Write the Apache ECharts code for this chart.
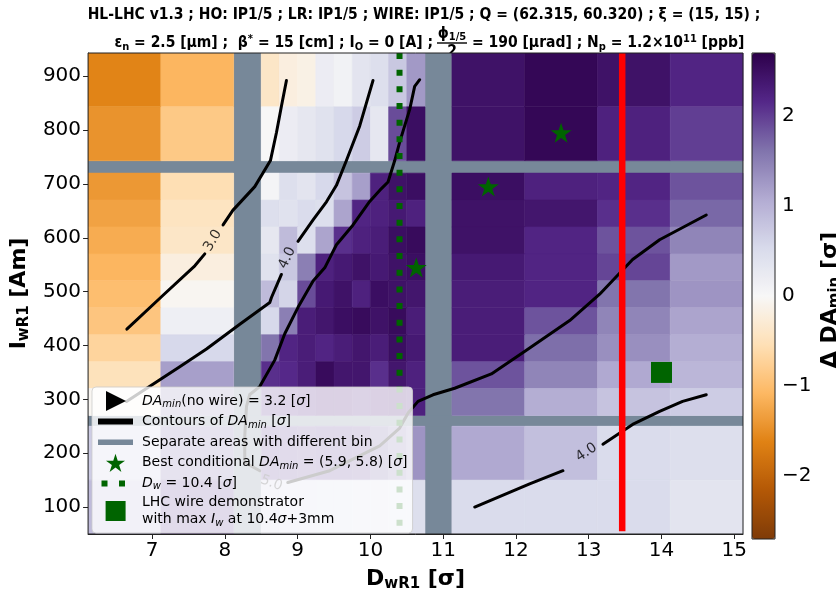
<!DOCTYPE html>
<html><head><meta charset="utf-8">
<script src="https://cdn.jsdelivr.net/npm/echarts@6/dist/echarts.min.js"></script>
<style>html,body{margin:0;padding:0;background:#fff}#c{width:836px;height:597px}</style>
</head><body><div id="c"></div>
<script>
// ---------------- data ----------------
const xTicks = [7, 8, 9, 10, 11, 12, 13, 14, 15];
const yTicks = [100, 200, 300, 400, 500, 600, 700, 800, 900];
const cbTicks = [-2, -1, 0, 1, 2];

// cell column edges [D_wR1 from, to] (sigma)
const colEdges = [[6.12,7.12],[7.12,8.12],
  [8.5,8.75],[8.75,9.0],[9.0,9.25],[9.25,9.5],[9.5,9.75],[9.75,10.0],[10.0,10.25],[10.25,10.5],[10.5,10.75],
  [11.12,12.12],[12.12,13.12],[13.12,14.12],[14.12,15.12]];
// cell row edges [I_wR1 from, to] (A m), top to bottom
const rowEdges = [[843,943],[743,843],
  [670,720],[620,670],[570,620],[520,570],[470,520],[420,470],[370,420],[320,370],[270,320],
  [150,250],[50,150]];
// Delta DA_min [sigma] per row (top -> bottom), per column (left -> right)
const deltaDA = [
  [-1.6, -1.1, -0.4, -0.2, -0.15, 0.2, 0.1, 0.35, 0.45, 0.75, 1.25, 2.45, 2.6, 2.45, 2.2],
  [-1.45, -0.85, 0.0, 0.2, 0.3, 0.4, 0.55, 0.7, 0.3, 1.9, 2.5, 2.45, 2.6, 2.25, 2.0],
  [-1.4, -0.55, 0.05, 0.45, 0.35, 0.55, 0.8, 1.2, 2.25, 2.45, 2.5, 2.5, 2.25, 2.2, 1.85],
  [-1.3, -0.45, 0.45, 0.4, 0.5, 0.45, 1.15, 2.2, 2.25, 2.35, 2.25, 2.45, 2.4, 2.1, 1.7],
  [-1.2, -0.4, 0.3, 0.9, 0.45, 1.15, 2.1, 2.25, 2.3, 2.5, 2.55, 2.45, 2.2, 1.85, 1.45],
  [-1.1, -0.2, 0.4, 0.75, 1.5, 2.25, 2.35, 2.45, 2.35, 2.45, 2.5, 2.35, 2.2, 1.95, 1.25],
  [-1.0, -0.05, 0.9, 0.6, 1.9, 2.35, 2.45, 2.25, 2.5, 2.45, 2.4, 2.3, 2.2, 1.6, 1.3],
  [-0.9, 0.15, 0.55, 1.5, 2.3, 2.4, 2.5, 2.55, 2.45, 2.55, 2.3, 2.3, 1.85, 1.45, 1.15],
  [-0.7, 0.55, 1.6, 2.2, 2.3, 2.2, 2.3, 2.4, 2.3, 2.5, 2.35, 2.3, 1.65, 1.35, 1.05],
  [-0.5, 1.2, 2.1, 2.15, 2.3, 2.55, 2.4, 2.4, 2.1, 2.4, 2.25, 1.85, 1.45, 1.1, 0.95],
  [-0.05, 1.4, 2.0, 2.1, 2.2, 2.3, 2.3, 2.2, 2.3, 2.35, 2.25, 1.6, 1.05, 0.8, 0.7],
  [0.7, 1.6, 1.9, 1.9, 1.85, 1.9, 1.9, 1.85, 1.7, 1.5, 1.3, 1.1, 0.85, 0.5, 0.45],
  [0.9, 1.9, 0.65, 0.6, 0.6, 0.55, 0.55, 0.5, 0.5, 0.45, 0.45, 0.5, 0.5, 0.5, 0.35]
];
// separator bands
const bandX = [[8.12, 8.5], [10.75, 11.12]];
const bandY = [[250, 270], [720, 743]];
const xRange = [6.12, 15.12];
const yRange = [50, 943];
const cbRange = [-2.7, 2.7];

// contours of DA_min (segments, broken at labels)
const contour30 = [
  [[8.846,892.1],[8.777,844.3],[8.709,795.4],[8.626,743.3],[8.411,694.9],[8.109,650.8],[7.975,623.8]],
  [[7.724,570.0],[7.587,547.9],[7.147,492.8],[6.653,430.3]]
];
const contour40a = [
  [[10.036,892.1],[9.853,807.6],[9.670,743.3],[9.533,697.3],[9.396,666.8],[9.212,633.0],[9.005,593.3]],
  [[8.777,531.9],[8.640,489.1],[8.617,479.9],[8.205,439.5],[7.747,393.6],[7.380,360.5],[6.648,296.2]]
];
const contour50 = [
  [[10.677,893.4],[10.608,881.1],[10.540,838.3],[10.402,777.6],[10.334,743.3],[10.242,703.6],[10.151,691.3],
   [9.990,667.4],[9.761,623.8],[9.533,587.1],[9.372,544.2],[9.212,519.8],[9.005,470.8],[8.823,421.7],
   [8.685,372.8],[8.479,323.7],[8.342,309.0],[8.297,287.0],[8.273,231.9],[8.273,182.8],[8.479,167.5]],
  [[8.864,145.5],[9.441,167.5],[10.128,213.5],[10.402,246.6],[10.518,274.7],[10.654,296.2],[10.860,308.5],
   [11.158,320.6],[11.662,347.1],[12.143,391.2],[12.738,446.3],[13.150,495.2],[13.603,559.5],[13.974,596.3],[14.615,642.2]]
];
const contour40b = [
  [[11.433,100.1],[12.188,143.1],[12.646,167.5]],
  [[13.195,216.6],[13.603,253.4],[13.974,277.8],[14.290,296.2],[14.615,308.5]]
];
const contourLabelPos = [[7.834,594.8],[8.857,562.6],[12.967,201.2],[8.640,144.6]];
const contourLabelText = ['3.0', '4.0', '4.0', '5.0'];

const bestPoints = [[12.62, 795], [11.62, 695], [10.63, 545]];
const wireDemo = [[14.0, 350]];
const dwValue = 10.4;
const redLineX = 13.46;
const redLineY = [55, 943];

// ---------------- chart ----------------
const puor = ['#7f3b08','#b35806','#e08214','#fdb863','#fee0b6','#f7f7f7','#d8daeb','#b2abd2','#8073ac','#542788','#2d004b'];
const FONT = 'DejaVu Sans';
const TFONT = 'DejaVu Sans Condensed';
const GREEN = '#006400';

const cells = [];
rowEdges.forEach((r, i) => colEdges.forEach((c, j) => cells.push([c[0], c[1], r[0], r[1], deltaDA[i][j]])));

const starPath = 'path://M10,0 L12.245,6.91 L19.51,6.91 L13.633,11.18 L15.88,18.09 L10,13.82 L4.12,18.09 L6.367,11.18 L0.49,6.91 L7.755,6.91 Z';
const box = 'M0,0 M39,20 ';
const icons = {
  noWire: 'path://' + box + 'M8,0 L28,10 L8,20 Z',
  contours: 'path://' + box + 'M0,7 L35,7 L35,13 L0,13 Z',
  bands: 'path://' + box + 'M0,7.2 L35,7.2 L35,12.8 L0,12.8 Z',
  best: 'path://' + box + 'M17.5,1 L19.745,7.91 L27.01,7.91 L21.133,12.18 L23.38,19.09 L17.5,14.82 L11.62,19.09 L13.867,12.18 L7.99,7.91 L15.255,7.91 Z',
  dw: 'path://' + box + 'M3.5,7 L9.5,7 L9.5,13 L3.5,13 Z M21,7 L27,7 L27,13 L21,13 Z',
  lhc: 'path://' + box + 'M7,-0.5 L28,-0.5 L28,20.5 L7,20.5 Z'
};
const legendText = {
  noWire: '{it|DA}{sub|min}(no wire) = 3.2 [{it|σ}]',
  contours: 'Contours of {it|DA}{sub|min} [{it|σ}]',
  bands: 'Separate areas with different bin',
  best: 'Best conditional {it|DA}{sub|min} = (5.9, 5.8) [{it|σ}]',
  dw: '{it|D}{sub|w} = 10.4 [{it|σ}]',
  lhc: 'LHC wire demonstrator\nwith max {it|I}{sub|w} at 10.4{it|σ}+3mm'
};
const legendColors = {noWire:'#000', contours:'#000', bands:'#778899', best:GREEN, dw:GREEN, lhc:GREEN};

const series = [];
series.push({
  type: 'custom', name: 'delta', z: 1, silent: true, clip: true,
  data: cells, encode: {x: [0, 1], y: [2, 3]},
  renderItem: function (params, api) {
    const p0 = api.coord([api.value(0), api.value(3)]);
    const p1 = api.coord([api.value(1), api.value(2)]);
    const col = api.visual('color');
    return {type: 'rect', shape: {x: p0[0], y: p0[1], width: p1[0] - p0[0], height: p1[1] - p0[1]},
      style: {fill: col, stroke: col, lineWidth: 0.6}};
  }
});
// separator bands
const bandAreas = [];
bandX.forEach(b => bandAreas.push([{xAxis: b[0], yAxis: yRange[0]}, {xAxis: b[1], yAxis: yRange[1]}]));
bandY.forEach(b => bandAreas.push([{xAxis: xRange[0], yAxis: b[0]}, {xAxis: xRange[1], yAxis: b[1]}]));
series.push({type: 'scatter', name: 'bands', data: [], z: 2, itemStyle: {color: '#778899', opacity: 1}, silent: true,
  markArea: {silent: true, itemStyle: {color: '#778899', opacity: 1}, label: {show: false}, data: bandAreas}});
// legend-only entries
series.push({type: 'scatter', name: 'noWire', data: [], itemStyle: {color: '#000', opacity: 1}});
series.push({type: 'scatter', name: 'contours', data: [], itemStyle: {color: '#000', opacity: 1}});
series.push({type: 'scatter', name: 'dw', data: [], itemStyle: {color: GREEN, opacity: 1}});
// contour lines
[contour30, contour40a, contour50, contour40b].forEach(c => c.forEach(seg => series.push({
  type: 'line', data: seg, showSymbol: false, symbol: 'none', z: 5, silent: true,
  lineStyle: {color: '#000', width: 3, join: 'round', cap: 'round'}
})));
// contour labels
series.push({
  type: 'scatter', z: 6, silent: true, symbolSize: 0,
  data: contourLabelPos.map((p, i) => ({value: p, label: {formatter: contourLabelText[i], rotate: [59, 65, 34, -20][i]}})),
  label: {show: true, position: 'inside', color: '#000', fontFamily: FONT, fontSize: 14}
});
// Dw dotted line
series.push({type: 'line', data: [[dwValue, yRange[1]], [dwValue, yRange[0]]], showSymbol: false, symbol: 'none', z: 6, silent: true,
  lineStyle: {color: GREEN, width: 6, type: [6, 10.67], cap: 'butt'}});
// red line
series.push({type: 'line', data: [[redLineX, redLineY[1]], [redLineX, redLineY[0]]], showSymbol: false, symbol: 'none', z: 6, silent: true,
  lineStyle: {color: '#ff0000', width: 6.5}});
// stars
series.push({type: 'scatter', name: 'best', data: bestPoints, symbol: starPath, symbolSize: [21, 20], z: 7,
  itemStyle: {color: GREEN, opacity: 1}});
// LHC wire demonstrator
series.push({type: 'scatter', name: 'lhc', data: wireDemo, symbol: 'rect', symbolSize: 21, z: 7,
  itemStyle: {color: GREEN, opacity: 1}});

const sub = {fontFamily: FONT, fontSize: 10, fontStyle: 'italic', color: '#000', verticalAlign: 'bottom', lineHeight: 12};
const nameRich = {
  b: {fontFamily: FONT, fontWeight: 'bold', fontSize: 22, color: '#000', lineHeight: 26},
  s: {fontFamily: FONT, fontWeight: 'bold', fontSize: 15, color: '#000', verticalAlign: 'bottom', lineHeight: 20}
};
const option = {
  animation: false,
  backgroundColor: '#fff',
  grid: [
    {left: 88, right: 93, top: 53, bottom: 58, show: true, borderColor: '#222', borderWidth: 1, backgroundColor: 'transparent', z: 8},
    {left: 752, width: 23, top: 53, height: 486, show: false}
  ],
  xAxis: [
    {type: 'value', gridIndex: 0, min: xRange[0], max: xRange[1],
      axisLine: {show: true, onZero: false, lineStyle: {color: '#222', width: 1}},
      axisTick: {show: true, length: 5, lineStyle: {color: '#222'}, customValues: xTicks},
      axisLabel: {fontFamily: FONT, fontSize: 20, color: '#000', margin: 7, customValues: xTicks},
      splitLine: {show: false},
      name: '{b|D}{s|wR1}{b| [σ]}', nameLocation: 'middle', nameGap: 32,
      nameTextStyle: {rich: nameRich}
    },
    {type: 'value', gridIndex: 1, min: 0, max: 1, show: false}
  ],
  yAxis: [
    {type: 'value', gridIndex: 0, min: yRange[0], max: yRange[1],
      axisLine: {show: true, onZero: false, lineStyle: {color: '#222', width: 1}},
      axisTick: {show: true, length: 5, lineStyle: {color: '#222'}, customValues: yTicks},
      axisLabel: {fontFamily: FONT, fontSize: 20, color: '#000', margin: 7, customValues: yTicks},
      splitLine: {show: false},
      name: '{b|I}{s|wR1}{b| [Am]}', nameLocation: 'middle', nameGap: 55, nameRotate: 90,
      nameTextStyle: {rich: nameRich}
    },
    {type: 'value', gridIndex: 1, min: cbRange[0], max: cbRange[1], position: 'right',
      axisLine: {show: false},
      axisTick: {show: true, length: 5, lineStyle: {color: '#222'}, customValues: cbTicks},
      axisLabel: {fontFamily: FONT, fontSize: 20, color: '#000', margin: 7, customValues: cbTicks,
        formatter: v => String(v).replace('-', '\u2212')},
      splitLine: {show: false}
    }
  ],
  visualMap: {
    type: 'continuous', min: cbRange[0], max: cbRange[1], seriesIndex: 0, dimension: 4,
    left: 752, top: 53, itemWidth: 23, itemHeight: 486, padding: 0, calculable: false, hoverLink: false,
    orient: 'vertical', text: null, showLabel: false, inRange: {color: puor}
  },
  legend: {
    orient: 'vertical', left: 92, top: 387, padding: [4, 5, 5, 6], itemGap: 0.6,
    itemWidth: 39, itemHeight: 20, selectedMode: false, z: 20,
    backgroundColor: 'rgba(255,255,255,0.8)', borderColor: 'rgba(204,204,204,0.8)', borderWidth: 1, borderRadius: 4,
    data: ['noWire', 'contours', 'bands', 'best', 'dw', 'lhc'].map(n => ({name: n, icon: icons[n], itemStyle: {color: legendColors[n], opacity: 1}})),
    formatter: n => legendText[n],
    textStyle: {fontFamily: FONT, fontSize: 14, color: '#000', lineHeight: 17,
      rich: {it: {fontFamily: FONT, fontSize: 14, fontStyle: 'italic', color: '#000', lineHeight: 17}, sub: sub}}
  },
  graphic: [
    {type: 'rect', shape: {x: 752, y: 53, width: 23, height: 486}, style: {fill: 'none', stroke: '#222', lineWidth: 1}, z: 100, silent: true},
    {type: 'text', x: 830, y: 300, rotation: Math.PI / 2, silent: true, style: {
      text: '{b|Δ DA}{s|min}{b| [σ]}', align: 'center', textAlign: 'center', verticalAlign: 'middle', textVerticalAlign: 'middle',
      rich: {
        b: {fontFamily: FONT, fontWeight: 'bold', fontSize: 22, fill: '#000', lineHeight: 26},
        s: {fontFamily: FONT, fontWeight: 'bold', fontSize: 15, fill: '#000', lineHeight: 20, verticalAlign: 'bottom'}}}},
    {type: 'text', x: 424, y: 15, silent: true, style: {
      text: 'HL-LHC v1.3 ; HO: IP1/5 ; LR: IP1/5 ; WIRE: IP1/5 ; Q = (62.315, 60.320) ; ξ = (15, 15) ;',
      font: 'bold 15.5px "' + TFONT + '"', fill: '#000', align: 'center', textAlign: 'center', verticalAlign: 'middle', textVerticalAlign: 'middle'}},
    {type: 'text', x: 433, y: 43, silent: true, style: {
      text: '{m|ε}{s|n}{m| = 2.5 [μm] ;  β}{p|*}{m| = 15 [cm] ; I}{s|O}{m| = 0 [A] ;}',
      align: 'right', textAlign: 'right', verticalAlign: 'middle', textVerticalAlign: 'middle',
      rich: {
        m: {fontFamily: TFONT, fontWeight: 'bold', fontSize: 15.5, fill: '#000', lineHeight: 19},
        s: {fontFamily: TFONT, fontWeight: 'bold', fontSize: 11, fill: '#000', lineHeight: 19, verticalAlign: 'bottom'},
        p: {fontFamily: TFONT, fontWeight: 'bold', fontSize: 11, fill: '#000', lineHeight: 19, verticalAlign: 'top'}}}},
    {type: 'text', x: 452, y: 34, silent: true, style: {
      text: '{m|ϕ}{s|1/5}', align: 'center', textAlign: 'center', verticalAlign: 'middle', textVerticalAlign: 'middle',
      rich: {
        m: {fontFamily: TFONT, fontWeight: 'bold', fontSize: 15.5, fill: '#000', lineHeight: 17},
        s: {fontFamily: TFONT, fontWeight: 'bold', fontSize: 11, fill: '#000', lineHeight: 17, verticalAlign: 'bottom'}}}},
    {type: 'line', silent: true, shape: {x1: 437, y1: 43, x2: 467, y2: 43}, style: {stroke: '#000', lineWidth: 1.4}},
    {type: 'text', x: 452, y: 52, silent: true, style: {
      text: '2', font: 'bold 15.5px "' + TFONT + '"', fill: '#000', align: 'center', textAlign: 'center', verticalAlign: 'middle', textVerticalAlign: 'middle'}},
    {type: 'text', x: 472, y: 43, silent: true, style: {
      text: '{m|= 190 [μrad] ; N}{s|p}{m| = 1.2×10}{p|11}{m| [ppb]}',
      align: 'left', textAlign: 'left', verticalAlign: 'middle', textVerticalAlign: 'middle',
      rich: {
        m: {fontFamily: TFONT, fontWeight: 'bold', fontSize: 15.5, fill: '#000', lineHeight: 19},
        s: {fontFamily: TFONT, fontWeight: 'bold', fontSize: 11, fill: '#000', lineHeight: 19, verticalAlign: 'bottom'},
        p: {fontFamily: TFONT, fontWeight: 'bold', fontSize: 11, fill: '#000', lineHeight: 19, verticalAlign: 'top'}}}}
  ],
  series: series
};
const chart = echarts.init(document.getElementById('c'), null, {renderer: 'canvas', devicePixelRatio: 1});
chart.setOption(option);
</script>
</body></html>
